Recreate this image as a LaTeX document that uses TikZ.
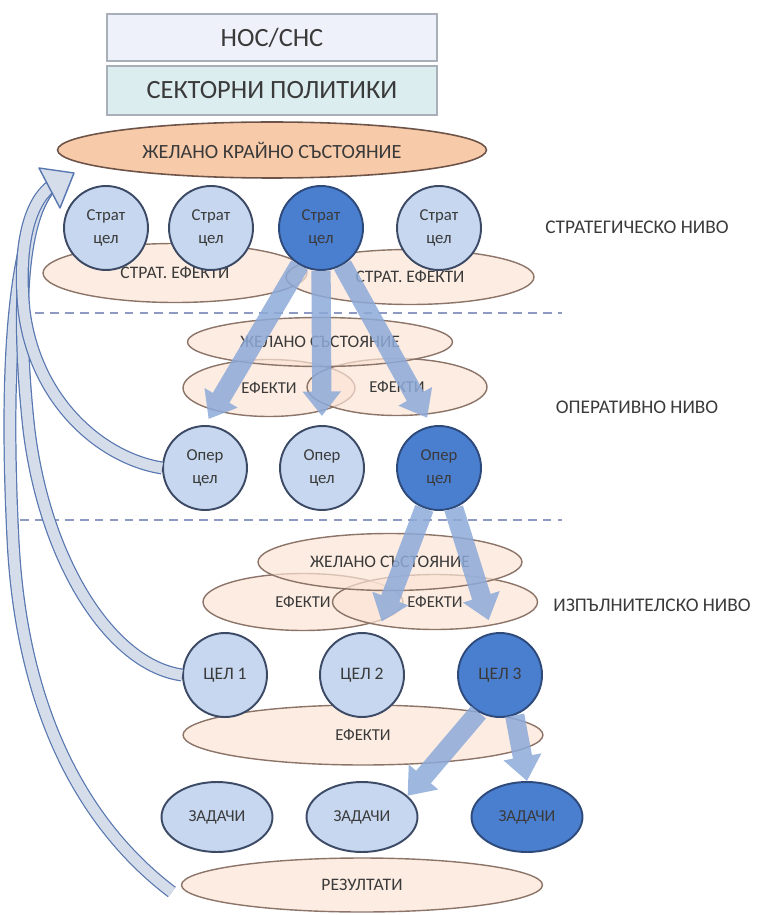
\documentclass[tikz,border=0pt]{standalone}
\usepackage{fontspec}
\setmainfont{Carlito}
\usepackage{tikz}
\usetikzlibrary{arrows.meta, positioning, shapes}
\definecolor{boxone}{HTML}{EEF1F9}
\definecolor{boxtwo}{HTML}{DCEDEF}
\definecolor{boxline}{HTML}{A9AFB8}
\definecolor{finalfill}{HTML}{F7CBAA}
\definecolor{finalline}{HTML}{6E5448}
\definecolor{effectfill}{HTML}{FBE4D5}
\definecolor{effectline}{HTML}{8C7468}
\definecolor{lightgoal}{HTML}{C6D7EF}
\definecolor{goalline}{HTML}{3C4A66}
\definecolor{darkgoal}{HTML}{4A7FD0}
\definecolor{darkline}{HTML}{2E4A7A}
\definecolor{arrowblue}{HTML}{8DAAD9}
\definecolor{backline}{HTML}{5877B0}
\definecolor{backfill}{HTML}{D5DDEA}
\definecolor{dashblue}{HTML}{8E9AC4}
\definecolor{textgray}{HTML}{3A3A3A}
\tikzset{
        x=0.02cm, y=-0.02cm, % one unit is one pixel of the original picture
        every node/.style={text=textgray},
    }
\tikzstyle{topbox}=[draw=boxline,line width=0.8pt,rectangle,minimum width=6.6cm,minimum height=0.94cm,font=\fontsize{15}{17}\selectfont]
\tikzstyle{final}=[draw=finalline,line width=0.9pt,fill=finalfill,ellipse,minimum width=8.58cm,minimum height=1.12cm,inner sep=0pt,font=\fontsize{11.5}{13}\selectfont]
\tikzstyle{effect}=[draw=effectline,line width=0.8pt,fill=effectfill,fill opacity=0.7,text opacity=1,ellipse,inner sep=0pt,font=\fontsize{9.5}{11}\selectfont]
\tikzstyle{goal}=[draw=goalline,line width=1.1pt,fill=lightgoal,circle,minimum size=1.68cm,inner sep=0pt,align=center,font=\fontsize{9.5}{13}\selectfont]
\tikzstyle{maingoal}=[goal,draw=darkline,fill=darkgoal]
\tikzstyle{task}=[goal,ellipse,minimum width=2.22cm,minimum height=1.4cm,font=\fontsize{9.5}{11}\selectfont]
\tikzstyle{level}=[font=\fontsize{11}{13}\selectfont]
\tikzstyle{divider}=[draw=dashblue,line width=1.4pt,dash pattern=on 5pt off 3.5pt]
\tikzstyle{bigarrow}=[draw=arrowblue,line width=11pt,-{Triangle[width=21pt,length=14pt]}]
\tikzstyle{backarrow}=[draw=backline,line width=0.7pt,double=backfill,double distance=6pt]
\tikzstyle{backhead}=[draw=backline,line width=0.8pt,fill=backfill,line join=round]

\begin{document}
\begin{tikzpicture}
    \useasboundingbox (0,0) rectangle (760,915);

    % frame on top
    \node[topbox,fill=boxone] (nos) at (272,37.5) {НОС/СНС};
    \node[topbox,fill=boxtwo,minimum height=0.98cm] (pol) at (272,90.5) {СЕКТОРНИ ПОЛИТИКИ};
    \node[final] (end) at (272,150) {ЖЕЛАНО КРАЙНО СЪСТОЯНИЕ};

    % strategic level
    \node[effect,minimum width=5.28cm,minimum height=1.18cm,font=\fontsize{10}{12}\selectfont] (se1) at (175,273) {СТРАТ. ЕФЕКТИ};
    \node[effect,minimum width=4.96cm,minimum height=1.1cm,font=\fontsize{10}{12}\selectfont] (se2) at (410,277) {СТРАТ. ЕФЕКТИ};
    \node[goal] (s1) at (106,228) {Страт\\цел};
    \node[goal] (s2) at (211,228) {Страт\\цел};
    \node[maingoal] (s3) at (321,228) {Страт\\цел};
    \node[goal] (s4) at (439,228) {Страт\\цел};
    \node[level] (lvs) at (637,227) {СТРАТЕГИЧЕСКО НИВО};

    \draw[divider] (35,313) -- (562,313);

    % operational level
    \node[effect,minimum width=3.44cm,minimum height=1.14cm] (oe1) at (269,388) {ЕФЕКТИ};
    \node[effect,minimum width=3.6cm,minimum height=1.14cm] (oe2) at (397,387) {ЕФЕКТИ};
    \node[effect,minimum width=5.3cm,minimum height=0.98cm,font=\fontsize{10}{12}\selectfont] (os) at (320,342) {ЖЕЛАНО СЪСТОЯНИЕ};
    \node[goal] (o1) at (205,468) {Опер\\цел};
    \node[goal] (o2) at (322,468) {Опер\\цел};
    \node[maingoal] (o3) at (439,468) {Опер\\цел};
    \node[level] (lvo) at (637,407) {ОПЕРАТИВНО НИВО};

    \draw[divider] (20,520) -- (562,520);

    % executive level
    \node[effect,minimum width=4cm,minimum height=1.14cm] (ee1) at (303,602) {ЕФЕКТИ};
    \node[effect,minimum width=4.1cm,minimum height=1.1cm] (ee2) at (435,602) {ЕФЕКТИ};
    \node[effect,minimum width=5.28cm,minimum height=1.14cm,font=\fontsize{10}{12}\selectfont] (es) at (390,562) {ЖЕЛАНО СЪСТОЯНИЕ};
    \node[effect,minimum width=7.2cm,minimum height=1.2cm] (ee3) at (363,735) {ЕФЕКТИ};
    \node[goal,font=\fontsize{10}{12}\selectfont] (g1) at (225,675) {ЦЕЛ 1};
    \node[goal,font=\fontsize{10}{12}\selectfont] (g2) at (362,675) {ЦЕЛ 2};
    \node[maingoal,font=\fontsize{10}{12}\selectfont] (g3) at (500,675) {ЦЕЛ 3};
    \node[level] (lve) at (652,605) {ИЗПЪЛНИТЕЛСКО НИВО};

    \node[task] (t1) at (217,817) {ЗАДАЧИ};
    \node[task] (t2) at (362,817) {ЗАДАЧИ};
    \node[task,draw=darkline,fill=darkgoal] (t3) at (527,817) {ЗАДАЧИ};
    \node[effect,minimum width=7.22cm,minimum height=1.08cm,font=\fontsize{10}{12}\selectfont] (res) at (362,885) {РЕЗУЛТАТИ};

    % cascade arrows
    \begin{scope}[transparency group,opacity=0.85]
    \draw[bigarrow,shorten >=0.14cm] (s3.240) -- (o1.north);
    \draw[bigarrow,shorten >=0.18cm] (s3.south) -- (o2.north);
    \draw[bigarrow,shorten >=0.18cm] (s3.300) -- (o3.100);
    \draw[bigarrow,shorten >=0.28cm] (o3.250) -- (g2.70);
    \draw[bigarrow,shorten >=0.26cm] (o3.290) -- (g3.100);
    \draw[bigarrow] (g3.240) -- (t2.25);
    \draw[bigarrow] (g3.290) -- (t3.north);
    \end{scope}

    % feedback to the end state
    \coordinate (head) at (50,187);
    \draw[backarrow] ([xshift=-0.18cm,yshift=-0.14cm]res.west) .. controls (90,830) and (22,720) .. (13,540)
        .. controls (6,400) and (8,240) .. (head);
    \draw[backarrow] (g1.west) .. controls (110,665) and (45,560) .. (29,430)
        .. controls (18,330) and (18,225) .. (head);
    \draw[backarrow] (o1.west) .. controls (100,458) and (35,400) .. (24,310)
        .. controls (18,250) and (28,205) .. (head);
    \filldraw[backhead] (head) +(-11,-19) -- +(24,-14) -- +(10,21) -- cycle;
\end{tikzpicture}
\end{document}
